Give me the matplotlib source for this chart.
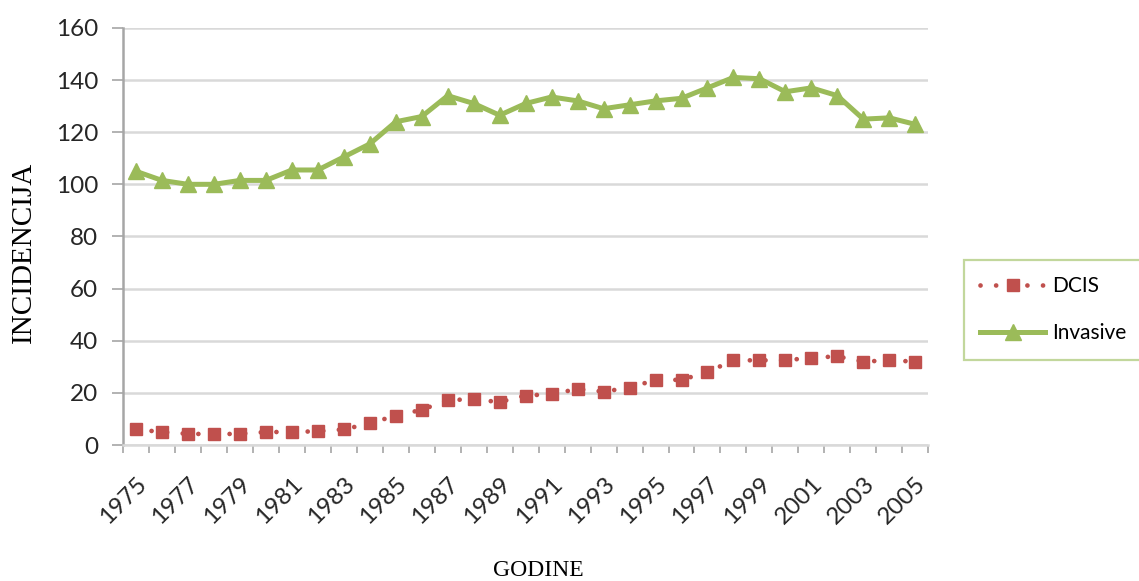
import numpy as np
import matplotlib.pyplot as plt
from matplotlib.ticker import FixedLocator

# data
years = list(range(1975, 2006))
invasive = [105, 101.5, 100, 100, 101.5, 101.5, 105.5, 105.5, 110.5, 115.5,
            124, 126, 134, 131, 126.5, 131, 133.5, 132, 129, 130.5,
            132, 133, 137, 141, 140.5, 135.5, 137, 134, 125, 125.5, 123]
dcis = [6, 5, 4.3, 4.2, 4.3, 5, 5, 5.3, 6, 8.3,
        11.3, 13.5, 17.3, 17.5, 16.5, 19, 19.5, 21.5, 20.5, 22,
        25, 25, 28, 32.5, 32.5, 32.5, 33.5, 34, 32, 32.5, 32]
label_years = years[::2]

red = '#C0504D'
green = '#9BBB59'
sans = ['Lato', 'DejaVu Sans']
serif = ['Liberation Serif', 'DejaVu Serif']

fig = plt.figure(figsize=(11.39, 5.81), dpi=100)
ax = fig.add_axes([0.108, 0.234, 0.707, 0.718])

ax.plot(years, dcis, color=red, linewidth=3.4, linestyle=(0, (0.01, 3.3)),
        dash_capstyle='round', marker='s', markersize=8.5, label='DCIS', zorder=3)
ax.plot(years, invasive, color=green, linewidth=3.6, marker='^',
        markersize=11, label='Invasive', zorder=3)

ax.set_xlim(years[0] - 0.5, years[-1] + 0.5)
ax.set_ylim(0, 160)
ax.set_yticks(np.arange(0, 161, 20))
ax.set_xticks(label_years)
ax.xaxis.set_minor_locator(FixedLocator(np.arange(years[0] - 0.5, years[-1] + 1, 1)))
ax.tick_params(axis='x', which='major', length=0, pad=20)
ax.tick_params(axis='x', which='minor', length=6, width=1.2, color='#A6A6A6')
ax.tick_params(axis='y', length=8, width=1.2, color='#A6A6A6', pad=10)
for lbl in ax.get_xticklabels():
    lbl.set_rotation(45)
    lbl.set_ha('right')
    lbl.set_va('top')
    lbl.set_rotation_mode('anchor')
    lbl.set_fontfamily(sans)
    lbl.set_fontsize(17.5)
    lbl.set_color('#262626')
for lbl in ax.get_yticklabels():
    lbl.set_fontfamily(sans)
    lbl.set_fontsize(17.5)
    lbl.set_color('#262626')

ax.grid(axis='y', color='#D9D9D9', linewidth=1.8)
ax.set_axisbelow(True)
for s in ['top', 'right']:
    ax.spines[s].set_visible(False)
ax.spines['left'].set_color('#A6A6A6')
ax.spines['left'].set_linewidth(1.8)
ax.spines['bottom'].set_color('#D9D9D9')
ax.spines['bottom'].set_linewidth(1.8)

fig.text(0.021, 0.565, 'INCIDENCIJA', rotation=90, ha='center', va='center',
         fontsize=21, family=serif, color='black')
fig.text(0.473, 0.018, 'GODINE', ha='center', va='center',
         fontsize=17, family=serif, color='black')

leg = fig.legend(loc='upper left', bbox_to_anchor=(0.846, 0.553),
                 borderaxespad=0,
                 prop={'family': sans, 'size': 15}, handlelength=3.1,
                 handletextpad=0.35, labelspacing=1.3, borderpad=0.8,
                 fancybox=False, frameon=True)
leg.get_frame().set_edgecolor('#B3CD84')
leg.get_frame().set_linewidth(1.6)

fig.savefig('out.png', dpi=100)
